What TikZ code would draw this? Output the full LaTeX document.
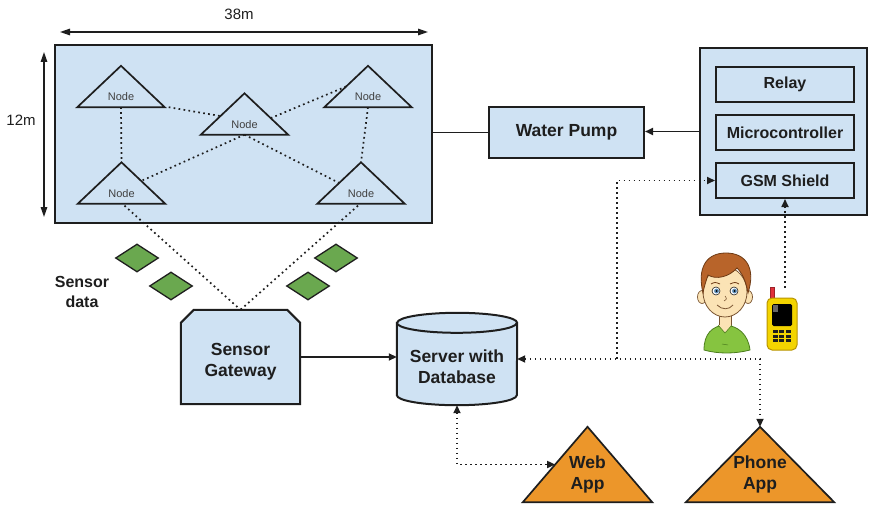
\documentclass[tikz,border=0pt]{standalone}
\usepackage{fontspec}
\setmainfont{Liberation Sans}
\usetikzlibrary{arrows.meta,calc,shapes.geometric,backgrounds}

\definecolor{ink}{HTML}{1E1E1E}
\definecolor{boxblue}{HTML}{CFE2F3}
\definecolor{leaf}{HTML}{6AA84F}
\definecolor{appor}{HTML}{EC962A}
\definecolor{skin}{HTML}{FBE3B5}
\definecolor{skindk}{HTML}{7A5532}
\definecolor{hair}{HTML}{B8642A}
\definecolor{hairdk}{HTML}{6E3A14}
\definecolor{shirt}{HTML}{86C440}
\definecolor{shirtdk}{HTML}{4D7F1E}
\definecolor{iris}{HTML}{5B8DB8}
\definecolor{phoneyel}{HTML}{F3D400}
\definecolor{phonedk}{HTML}{B89400}
\definecolor{antred}{HTML}{E0303A}

\begin{document}
\begin{tikzpicture}[x=1pt,y=-1pt,
  bigfont/.style={font=\fontsize{17.5}{21}\selectfont\bfseries},
  midfont/.style={font=\fontsize{16}{19}\selectfont\bfseries},
  box/.style={draw=ink, fill=boxblue, line width=2pt, inner sep=0pt, text=ink},
  plain/.style={inner sep=0pt, text=ink, align=center},
  tri/.style={minimum width=87pt, minimum height=41pt, inner sep=0pt,
    font=\fontsize{11}{13}\selectfont, text=ink!85, text height=29pt, text depth=0pt},
  triline/.style={draw=ink, line width=1.7pt, line join=miter},
  packet/.style={diamond, draw=ink, fill=leaf, line width=1.3pt, inner sep=0pt,
    minimum width=43pt, minimum height=28pt},
  appshape/.style={minimum width=#1, minimum height=75pt, inner sep=0pt},
  appfill/.style={draw=ink, fill=appor, line width=1.7pt, line join=miter},
  dotconn/.style={draw=ink, line width=1.7pt, dash pattern=on 1.7pt off 3.3pt},
  solidconn/.style={draw=ink, line width=1.8pt},
  dim/.style={draw=ink, line width=1.4pt, {Triangle[length=10pt,width=6.5pt]}-{Triangle[length=10pt,width=6.5pt]}},
  >={Triangle[length=8pt,width=7pt]}
]
\useasboundingbox (0,0) rectangle (869,505);

% ---------------- field with the sensor nodes ----------------
\node[box, minimum width=377pt, minimum height=178pt] (field) at (243.5,134) {};

\coordinate (w1) at (60,32);
\coordinate (w2) at (428,32);
\draw[dim] (w1) -- (w2);
\node[plain, font=\fontsize{15}{17}\selectfont] (wlab) at (239,14) {38m};
\coordinate (h1) at (44,52);
\coordinate (h2) at (44,217);
\draw[dim] (h1) -- (h2);
\node[plain, font=\fontsize{15}{17}\selectfont] (hlab) at (21,120) {12m};

\node[tri] (n1) at (121,86.5) {Node};
\node[tri] (n2) at (368,86.5) {Node};
\node[tri] (nc) at (244.5,114) {Node};
\node[tri] (n4) at (121.5,183) {Node};
\node[tri] (n5) at (361,183) {Node};
\foreach \n in {n1,n2,nc,n4,n5}
  \draw[triline] (\n.north) -- (\n.south east) -- (\n.south west) -- cycle;

% mesh links between the sensor nodes
\draw[dotconn] ($(n1.south east)+(4,0)$) -- ($(nc.north)!0.55!(nc.south west)$);
\draw[dotconn] (n1.south) -- (n4.north);
\draw[dotconn] ($(nc.north)!0.6!(nc.south east)$) -- ($(n2.north)!0.5!(n2.south west)$);
\draw[dotconn] (nc.south) -- ($(n4.north)!0.45!(n4.south east)$);
\draw[dotconn] (nc.south) -- ($(n5.north)!0.5!(n5.south west)$);
\draw[dotconn] (n2.south) -- (n5.north);

% ---------------- sensor gateway ----------------
\node[minimum width=119pt, minimum height=94pt, inner sep=0pt] (gw) at (240.5,357) {};
\begin{scope}[on background layer]
  \draw[box] (gw.south west) -- ($(gw.north west)+(0,13)$) -- ($(gw.north west)+(13,0)$)
    -- ($(gw.north east)+(-13,0)$) -- ($(gw.north east)+(0,13)$) -- (gw.south east) -- cycle;
\end{scope}
\node[plain, bigfont] (gwtxt) at (240.5,362) {Sensor\\Gateway};

\draw[dotconn] ($(n4.south)+(3,2)$) -- (gw.north);
\draw[dotconn] ($(n5.south)+(-3,2)$) -- (gw.north);

% data packets
\node[packet] (d1) at (137,258) {};
\node[packet] (d2) at (171,286) {};
\node[packet] (d3) at (336,258) {};
\node[packet] (d4) at (308,286) {};
\node[plain, font=\fontsize{16}{20}\selectfont\bfseries] (sdata) at (82,292) {Sensor\\data};

% ---------------- water pump and controller ----------------
\node[box, bigfont, minimum width=155pt, minimum height=51pt] (pump) at (566.5,132.5) {Water Pump};
\node[box, minimum width=167pt, minimum height=167pt] (ctrl) at (783.5,131.5) {};
\node[box, midfont, minimum width=138pt, minimum height=35pt] (relay) at (785,84.5) {Relay};
\node[box, midfont, minimum width=138pt, minimum height=35pt] (micro) at (785,132.5) {Microcontroller};
\node[box, midfont, minimum width=138pt, minimum height=35pt] (gsm) at (785,180.5) {GSM Shield};

\draw[solidconn] (pump.west) -- (pump.west -| field.east);
\draw[solidconn, ->] (ctrl.west) -- (ctrl.west -| pump.east);

% ---------------- server ----------------
\node[minimum width=120pt, minimum height=92pt, inner sep=0pt] (srv) at (457,359) {};
\begin{scope}[on background layer]
  \draw[box] ($(srv.north west)+(0,10)$) -- ($(srv.south west)+(0,-10)$)
    arc[start angle=180, end angle=360, x radius=60pt, y radius=10pt]
    -- ($(srv.north east)+(0,10)$)
    arc[start angle=0, end angle=180, x radius=60pt, y radius=10pt] -- cycle;
  \draw[draw=ink, line width=2pt] ($(srv.north west)+(0,10)$)
    arc[start angle=180, end angle=360, x radius=60pt, y radius=10pt];
\end{scope}
\node[plain, bigfont] (srvtxt) at (457,367) {Server with\\Database};

\draw[solidconn, ->] (gw.east) -- (gw.east -| srv.west);

% ---------------- applications ----------------
\node[appshape=129pt] (web) at (587.5,464.5) {};
\node[appshape=148pt] (papp) at (760,464.5) {};
\begin{scope}[on background layer]
  \draw[appfill] (web.north) -- (web.south east) -- (web.south west) -- cycle;
  \draw[appfill] (papp.north) -- (papp.south east) -- (papp.south west) -- cycle;
\end{scope}
\node[plain, bigfont] (webtxt) at (587.5,474) {Web\\App};
\node[plain, bigfont] (papptxt) at (760,474) {Phone\\App};

% ---------------- communication links ----------------
\coordinate (webin) at ($(web.north)!0.5!(web.south west)$);
\draw[dotconn, <->] (srv.south) |- (webin);
\draw[dotconn, <->] (srv.east) -| (papp.north);
\coordinate (split) at (617,359);
\draw[dotconn, ->] (split) |- (gsm.west);
\coordinate (phtop) at (785,288);
\draw[dotconn, ->] (phtop) -- (phtop |- gsm.south);

% ---------------- user ----------------
\draw[draw=shirtdk, fill=shirt, line width=0.8pt]
  (704,350) .. controls (704,334) and (712,326) .. (725,325)
  .. controls (738,326) and (748,334) .. (750,350)
  .. controls (735,354) and (718,354) .. (704,350) -- cycle;
\fill[skin] (719,306) rectangle (731,326);
\fill[skin] (718,325) -- (725,333) -- (732,325) -- cycle;
\draw[skindk, line width=0.6pt] (719,308) -- (719,325) (731,308) -- (731,325);
\draw[draw=shirtdk, line width=0.6pt] (718,325) -- (725,333) -- (732,325);
\draw[draw=shirtdk, line width=0.5pt] (722,344) -- (728,345);
\draw[draw=skindk, fill=skin, line width=0.7pt] (702,297) ellipse[x radius=4.5pt, y radius=6.5pt];
\draw[draw=skindk, fill=skin, line width=0.7pt] (748,297) ellipse[x radius=4.5pt, y radius=6.5pt];
\draw[draw=skindk, fill=skin, line width=0.8pt] (725,292) ellipse[x radius=22pt, y radius=25pt];
\draw[draw=hairdk, fill=hair, line width=0.8pt]
  (703,293) .. controls (697,268) and (706,253) .. (726,253)
  .. controls (746,253) and (756,268) .. (748,293)
  .. controls (746,281) and (742,273) .. (737,268)
  .. controls (729,277) and (716,280) .. (708,275)
  .. controls (706,281) and (704,287) .. (703,293) -- cycle;
\foreach \ex in {716,734}{
  \draw[draw=ink, fill=white, line width=0.6pt] (\ex,291) circle[radius=4pt];
  \fill[iris] (\ex+0.5,291) circle[radius=2.4pt];
  \fill[black] (\ex+0.5,291) circle[radius=1pt];
}
\draw[draw=hairdk, line width=0.8pt] (711,284) .. controls (715,282) .. (720,284);
\draw[draw=hairdk, line width=0.8pt] (730,284) .. controls (735,282) .. (739,284);
\draw[draw=skindk, line width=0.6pt] (725,296) .. controls (727,299) .. (724,301);
\draw[draw=skindk, line width=0.8pt] (717,305) .. controls (722,310) and (729,310) .. (733,305);

% ---------------- mobile phone ----------------
\draw[draw=antred!70!black, fill=antred, line width=0.4pt] (770,287) rectangle (774,300);
\draw[draw=phonedk, fill=phoneyel, line width=1pt, rounded corners=5pt] (767,298) rectangle (797,350);
\fill[black, rounded corners=1.5pt] (772,304) rectangle (792,326);
\fill[white!40!black] (773,305) rectangle (778,312);
\foreach \i in {0,1,2}
  \foreach \j in {0,1,2}
    \fill[ink] (772.5+\i*6.5,330+\j*4.5) rectangle +(5,3);
\end{tikzpicture}
\end{document}
